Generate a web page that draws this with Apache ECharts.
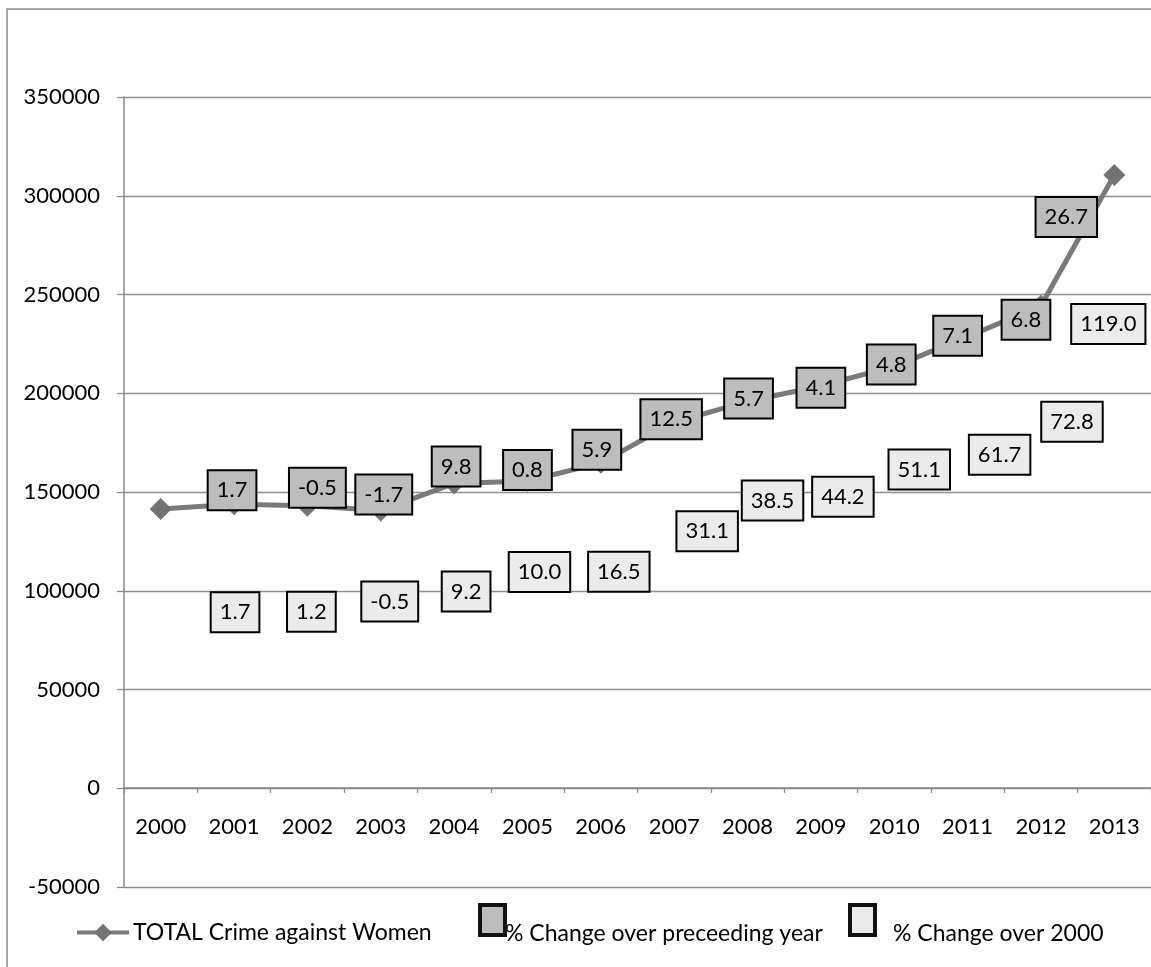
<!DOCTYPE html>
<html>
<head>
<meta charset="utf-8">
<script src="https://cdn.jsdelivr.net/npm/echarts@6/dist/echarts.min.js"></script>
<style>
  html, body { margin: 0; padding: 0; background: #ffffff; }
  #chart { width: 1151px; height: 967px; }
</style>
</head>
<body>
<div id="chart"></div>
<script>
// ---- data ----
const years = ['2000','2001','2002','2003','2004','2005','2006','2007','2008','2009','2010','2011','2012','2013'];
const totalCrime = [141373, 143795, 143034, 140601, 154333, 155553, 164765, 185312, 195856, 203804, 213585, 228650, 244270, 310500];
const pctPrevYear = [null, 1.7, -0.5, -1.7, 9.8, 0.8, 5.9, 12.5, 5.7, 4.1, 4.8, 7.1, 6.8, 26.7];
const pctOver2000 = [null, 1.7, 1.2, -0.5, 9.2, 10.0, 16.5, 31.1, 38.5, 44.2, 51.1, 61.7, 72.8, 119.0];
const yMin = -50000, yMax = 350000, yStep = 50000;
const seriesNames = ['TOTAL Crime against Women', '% Change over preceeding year', '% Change over 2000'];

// ---- layout: label box offsets (pixels) from each point ----
const darkOffsets = [[0,0],[-2,-14],[10,-18],[3,-16],[2,-17],[0,-11],[-4,-13],[-3,-3],[1,-3],[0,2],[-3,-2],[-10,-1],[-15,14],[-48,42]];
const lightOffsets = [[0,0],[1,108],[4,106],[9,91],[12,108],[12,91],[18,109],[33,109],[25,99],[22,111],[25,103],[32,118],[31,116],[-6,149]];

const FONT = 'Lato';
const TXT = '#000000';
// legend box icon: a 25x30 box drawn in the upper part of a 25x58 icon cell
const BOX_ICON = 'path://M0,0L25,0L25,30L0,30Z M0,58';

function boxLabel(bg) {
  return {
    show: true,
    position: 'inside',
    fontFamily: FONT,
    fontSize: 22,
    lineHeight: 26,
    color: TXT,
    opacity: 1,
    textBorderWidth: 0,
    backgroundColor: bg,
    borderColor: '#000000',
    borderWidth: 2,
    padding: [6, 8, 6, 8]
  };
}

function boxData(pcts, offsets) {
  const out = [];
  totalCrime.forEach((v, i) => {
    if (pcts[i] == null) return;
    out.push({ value: [i, v], pct: pcts[i], label: { offset: offsets[i] } });
  });
  return out;
}

const chart = echarts.init(document.getElementById('chart'));
chart.setOption({
  backgroundColor: '#ffffff',
  animation: false,
  graphic: [{
    type: 'rect', silent: true, z: -10,
    shape: { x: 7, y: 9, width: 1400, height: 1200 },
    style: { fill: 'none', stroke: '#8a8a8a', lineWidth: 1.5 }
  }],
  grid: { left: 124, right: 0, top: 97, bottom: 80, containLabel: false },
  xAxis: {
    type: 'category',
    data: years,
    boundaryGap: true,
    position: 'bottom',
    offset: -99,
    axisLine: { show: true, onZero: false, lineStyle: { color: '#888', width: 1.5 } },
    axisTick: { show: true, length: 5, inside: false, lineStyle: { color: '#888', width: 1.2 } },
    axisLabel: { margin: 28, fontFamily: FONT, fontSize: 22, color: TXT, interval: 0 },
    splitLine: { show: false }
  },
  yAxis: {
    type: 'value',
    min: yMin, max: yMax, interval: yStep,
    axisLine: { show: true, lineStyle: { color: '#888', width: 1.5 } },
    axisTick: { show: true, length: 7, lineStyle: { color: '#888', width: 1.2 } },
    axisLabel: { margin: 24, fontFamily: FONT, fontSize: 22, color: TXT, formatter: v => String(v) },
    splitLine: { show: true, lineStyle: { color: '#8e8e8e', width: 1.3 } }
  },
  legend: [
    {
      data: [seriesNames[0]],
      left: 75, top: 921, padding: 0,
      itemWidth: 52, itemHeight: 22,
      lineStyle: { width: 4 },
      textStyle: { fontFamily: FONT, fontSize: 23, color: TXT, padding: [0, 0, 0, -1] },
      selectedMode: false
    },
    {
      data: [{ name: seriesNames[1], icon: BOX_ICON,
               itemStyle: { color: '#bdbdbd', borderColor: '#111', borderWidth: 4, opacity: 1 } }],
      left: 478, top: 903, padding: 0,
      itemWidth: 25, itemHeight: 58,
      textStyle: { fontFamily: FONT, fontSize: 23, color: TXT, padding: [0, 0, 0, -5] },
      selectedMode: false
    },
    {
      data: [{ name: seriesNames[2], icon: BOX_ICON,
               itemStyle: { color: '#ebebeb', borderColor: '#111', borderWidth: 4, opacity: 1 } }],
      left: 848, top: 903, padding: 0,
      itemWidth: 25, itemHeight: 58,
      textStyle: { fontFamily: FONT, fontSize: 23, color: TXT, padding: [0, 0, 0, 13] },
      selectedMode: false
    }
  ],
  series: [
    {
      name: seriesNames[0],
      type: 'line',
      data: totalCrime,
      symbol: 'diamond',
      symbolSize: [22, 22],
      lineStyle: { color: '#7a7a7a', width: 5 },
      itemStyle: { color: '#737373' },
      z: 1
    },
    {
      name: seriesNames[1],
      type: 'scatter',
      data: boxData(pctPrevYear, darkOffsets),
      symbol: 'rect',
      symbolSize: 0,
      itemStyle: { color: '#bdbdbd' },
      label: Object.assign(boxLabel('#bdbdbd'), {
        formatter: p => p.data.pct.toFixed(1)
      }),
      z: 10
    },
    {
      name: seriesNames[2],
      type: 'scatter',
      data: boxData(pctOver2000, lightOffsets),
      symbol: 'rect',
      symbolSize: 0,
      itemStyle: { color: '#ebebeb' },
      label: Object.assign(boxLabel('#ebebeb'), {
        formatter: p => p.data.pct.toFixed(1)
      }),
      z: 10
    }
  ]
});
</script>
</body>
</html>
